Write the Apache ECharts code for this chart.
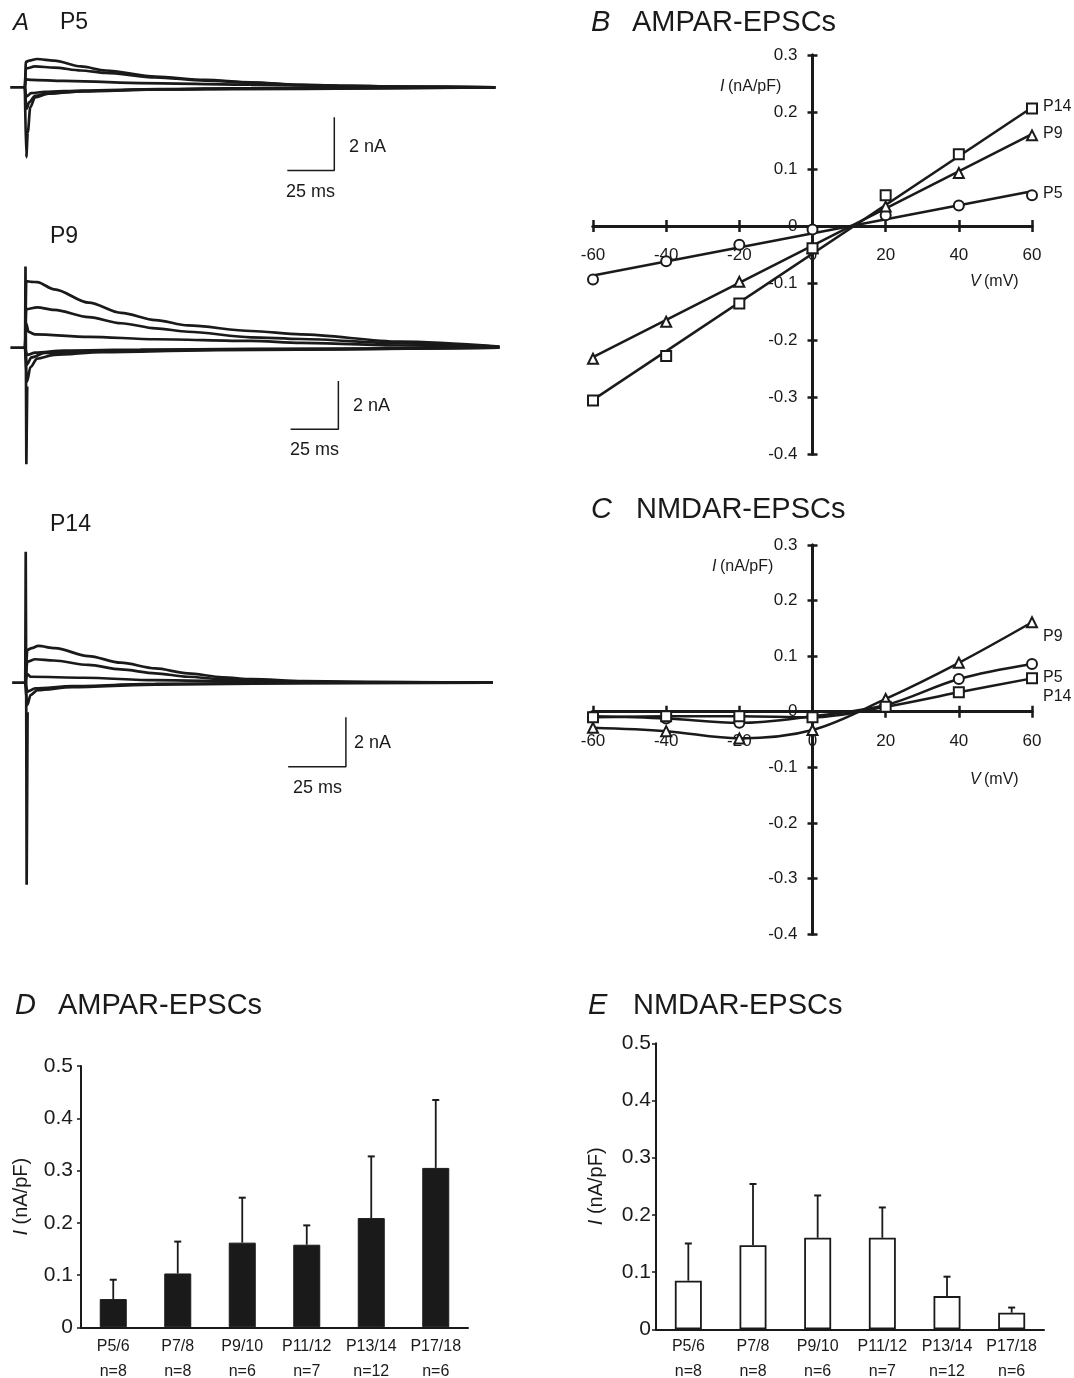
<!DOCTYPE html>
<html><head><meta charset="utf-8">
<script src="https://cdn.jsdelivr.net/npm/echarts@6/dist/echarts.min.js"></script>
<style>html,body{margin:0;padding:0;background:#fff}#c{width:1074px;height:1378px}</style>
</head><body><div id="c"></div>
<script>
// ---------- Panel A: EPSC traces (time in ms, current in nA) ----------
const p5_p60 = [[-8,0],[-0.3,0],[0.2,0.95],[2,1.0],[6,1.06],[15,1.0],[29,0.78],[42,0.63],[68,0.40],[94,0.28],[118,0.19],[144,0.09],[170,0.05],[200,0.02],[246,0]];
const p5_p40 = [[-0.3,0],[0.2,0.7],[5,0.78],[15,0.74],[29,0.63],[42,0.54],[68,0.37],[94,0.25],[118,0.17],[144,0.09],[170,0.05],[200,0.02],[246,0]];
const p5_p20 = [[-0.3,0],[0.2,0.3],[3,0.28],[20,0.24],[60,0.16],[118,0.1],[170,0.04],[246,0]];
const p5_0 = [[-0.3,0],[0.5,-0.35],[3,-0.22],[10,-0.17],[30,-0.12],[70,-0.07],[118,-0.03],[246,0]];
const p5_m20 = [[-0.3,0],[0.6,-0.8],[2,-0.55],[5,-0.32],[12,-0.22],[30,-0.14],[70,-0.08],[118,-0.04],[246,0]];
const p5_m60 = [[-0.3,0],[0.4,-2.62],[1.2,-1.7],[2.5,-0.75],[5,-0.38],[12,-0.24],[30,-0.15],[70,-0.08],[246,0]];
const p5_scale = [[137.1,-3.12],[161.7,-3.12],[161.7,-1.12]];

const p9_p60 = [[-8,0],[-0.3,0],[0.3,2.75],[3,2.72],[6,2.71],[15,2.41],[33,1.86],[50,1.44],[68,1.14],[85,0.92],[118,0.69],[144,0.55],[196,0.25],[248,0.05]];
const p9_p40 = [[-0.3,0],[0.3,1.59],[6,1.67],[15,1.56],[33,1.26],[50,1.01],[68,0.8],[85,0.66],[118,0.43],[144,0.36],[196,0.18],[248,0.04]];
const p9_p20 = [[-0.3,0],[0.3,1.0],[1.5,0.65],[5,0.55],[33,0.45],[68,0.35],[118,0.28],[144,0.2],[196,0.09],[248,0.02]];
const p9_0 = [[-0.3,0],[0.8,-0.3],[5,-0.2],[20,-0.12],[60,-0.08],[118,-0.05],[248,0]];
const p9_m20 = [[-0.3,0],[0.6,-0.7],[3,-0.4],[10,-0.22],[40,-0.14],[100,-0.08],[248,0]];
const p9_m40 = [[-0.3,0],[0.7,-1.4],[2.5,-0.8],[6,-0.45],[15,-0.3],[40,-0.18],[100,-0.1],[248,0]];
const p9_art = [[-0.3,0],[-0.1,3.35],[0.1,0],[0.35,-4.82],[0.8,-1.6]];
const p9_scale = [[138.7,-3.37],[163.7,-3.37],[163.7,-1.38]];

const p14_p60 = [[-6,0],[-0.3,0],[0.6,1.33],[2.5,1.4],[5.3,1.49],[12.6,1.40],[27,1.08],[41,0.81],[56,0.58],[70,0.38],[85,0.22],[98,0.14],[120,0.06],[150,0.02],[202,0]];
const p14_p40 = [[-0.3,0],[0.6,0.85],[4,0.95],[12,0.9],[27,0.72],[41,0.54],[56,0.38],[70,0.24],[85,0.14],[98,0.08],[130,0.03],[202,0]];
const p14_p20 = [[-0.3,0],[0.6,0.35],[2,0.24],[25,0.2],[56,0.1],[98,0.04],[150,0.01],[202,0]];
const p14_0 = [[-0.3,0],[0.8,-0.36],[4,-0.23],[20,-0.14],[56,-0.05],[100,-0.02],[202,0]];
const p14_m40 = [[-0.3,0],[0.6,-0.9],[2,-0.5],[5,-0.3],[20,-0.18],[56,-0.08],[120,-0.02],[202,0]];
const p14_art = [[-0.3,0],[-0.1,5.31],[0.1,0],[0.3,-8.2],[0.7,-1.2]];
const p14_scale = [[113.5,-3.41],[138.5,-3.41],[138.5,-1.40]];

// ---------- Panels B, C: I-V relations ----------
const voltages = [-60,-40,-20,0,20,40,60];
const ampa_P5 = [-0.094,-0.062,-0.033,-0.006,0.019,0.036,0.054];
const ampa_P9 = [-0.233,-0.168,-0.098,-0.039,0.034,0.093,0.159];
const ampa_P14 = [-0.306,-0.228,-0.136,-0.039,0.054,0.126,0.206];
const ampaFit_P5 = [[-60,-0.087],[60,0.061]];
const ampaFit_P9 = [[-60,-0.230],[60,0.161]];
const ampaFit_P14 = [[-60,-0.305],[60,0.208]];
const nmda_P5 = [-0.008,-0.012,-0.020,-0.008,0.012,0.059,0.086];
const nmda_P9 = [-0.029,-0.035,-0.048,-0.033,0.023,0.088,0.161];
const nmda_P14 = [-0.010,-0.008,-0.008,-0.010,0.009,0.035,0.060];
const ivTicksX = [-60, 60, 20];     // min, max, interval
const ivTicksY = [-0.4, 0.3, 0.1];

// ---------- Panels D, E: current densities ----------
const ages = ['P5/6','P7/8','P9/10','P11/12','P13/14','P17/18'];
const nAmpa = ['n=8','n=8','n=6','n=7','n=12','n=6'];
const nNmda = ['n=8','n=8','n=6','n=7','n=12','n=6'];
const ampaMean = [0.054,0.103,0.162,0.158,0.209,0.305];
const ampaSem  = [0.037,0.061,0.086,0.037,0.118,0.130];
const nmdaMean = [0.085,0.147,0.160,0.160,0.058,0.029];
const nmdaSem  = [0.065,0.107,0.074,0.053,0.034,0.009];

// ---------- build ----------
const FONT = '"Liberation Sans", Arial, Helvetica, sans-serif';
const INK = '#1a1a1a';

const grids = [
  {left:10.2, top:33.9, width:485.1, height:160.2},
  {left:10.4, top:263, width:489, height:205.7},
  {left:12.1, top:547.1, width:480.5, height:345.1},
  {left:593, top:55, width:439, height:399},
  {left:593, top:545, width:439, height:389},
  {left:81, top:1066, width:387, height:261.3},
  {left:656, top:1043.3, width:388, height:286}
].map(g => Object.assign({outerBoundsMode:'none', containLabel:false}, g));
const aRanges = [[-8,246,-4,2],[-8,248,-5,3.5],[-6,202,-8.5,5.5]];

const xAxes = [], yAxes = [], series = [];
aRanges.forEach((r,i)=>{
  xAxes.push({gridIndex:i, type:'value', min:r[0], max:r[1], show:false});
  yAxes.push({gridIndex:i, type:'value', min:r[2], max:r[3], show:false});
});
// B and C: main axes and tick-only mirror axes; labels are pulled from the
// grid edge onto the zero lines (crossing axes).
[3,4].forEach(g=>{
  const gr = grids[g];
  const zeroX = gr.width * (0 - ivTicksX[0]) / (ivTicksX[1] - ivTicksX[0]);
  const zeroY = gr.height * (ivTicksY[1] - 0) / (ivTicksY[1] - ivTicksY[0]);
  const lineS = {color:INK, width:3};
  xAxes.push({gridIndex:g, type:'value', min:ivTicksX[0], max:ivTicksX[1], interval:ivTicksX[2],
    axisLine:{show:true, onZero:true, lineStyle:lineS},
    axisTick:{show:true, length:6, lineStyle:{color:INK, width:2.5}},
    axisLabel:{show:true, margin:21 - (gr.height - zeroY), fontSize:17, color:INK, fontFamily:FONT,
      showMinLabel:true, showMaxLabel:true, hideOverlap:false},
    splitLine:{show:false}});
  xAxes.push({gridIndex:g, type:'value', position:'top', min:ivTicksX[0], max:ivTicksX[1], interval:ivTicksX[2],
    axisLine:{show:true, onZero:true, lineStyle:lineS},
    axisTick:{show:true, length:6, lineStyle:{color:INK, width:2.5}},
    axisLabel:{show:false}, splitLine:{show:false}});
  yAxes.push({gridIndex:g, type:'value', min:ivTicksY[0], max:ivTicksY[1], interval:ivTicksY[2],
    axisLine:{show:true, onZero:true, lineStyle:lineS},
    axisTick:{show:true, length:5, lineStyle:{color:INK, width:2.5}},
    axisLabel:{show:true, margin:15 - zeroX, fontSize:17, color:INK, fontFamily:FONT,
      showMinLabel:true, showMaxLabel:true, hideOverlap:false},
    splitLine:{show:false}});
  yAxes.push({gridIndex:g, type:'value', position:'right', min:ivTicksY[0], max:ivTicksY[1], interval:ivTicksY[2],
    axisLine:{show:true, onZero:true, lineStyle:lineS},
    axisTick:{show:true, length:5, lineStyle:{color:INK, width:2.5}},
    axisLabel:{show:false}, splitLine:{show:false}});
});
// D and E
[[5,nAmpa],[6,nNmda]].forEach(([g,ns],k)=>{
  xAxes.push({gridIndex:g, type:'category', data:ages,
    axisLine:{show:true, lineStyle:{color:INK, width:2}},
    axisTick:{show:false},
    axisLabel:{margin:k===0?7:5, fontSize:16, lineHeight:25, color:INK, fontFamily:FONT, interval:0,
      formatter:(v,i)=> v + '\n' + ns[i]}});
  yAxes.push({gridIndex:g, type:'value', min:0, max:0.5, interval:0.1,
    axisLine:{show:true, lineStyle:{color:INK, width:2}},
    axisTick:{show:true, length:4, lineStyle:{color:INK, width:1.5}},
    axisLabel:{margin:k===0?8:5, fontSize:21, color:INK, fontFamily:FONT},
    splitLine:{show:false},
    name:'{i|I} (nA/pF)', nameLocation:'middle', nameGap:50, nameRotate:90,
    nameTextStyle:{fontSize:20, color:INK, fontFamily:FONT, rich:{i:{fontStyle:'italic', fontSize:20, fontFamily:FONT, color:INK}}}});
});

function trace(ax, data, smooth){
  series.push({type:'line', xAxisIndex:ax, yAxisIndex:ax, data:data, symbol:'none', showSymbol:false,
    smooth: smooth===false ? false : 0.3, smoothMonotone:'x',
    lineStyle:{color:INK, width:2.7}, silent:true});
}
function scaleBar(ax, data){
  series.push({type:'line', xAxisIndex:ax, yAxisIndex:ax, data:data, symbol:'none', showSymbol:false,
    lineStyle:{color:INK, width:1.5}, silent:true});
}
[p5_p60,p5_p40,p5_p20,p5_0,p5_m20,p5_m60].forEach(d=>trace(0,d));
scaleBar(0,p5_scale);
[p9_p60,p9_p40,p9_p20,p9_0,p9_m20,p9_m40].forEach(d=>trace(1,d));
trace(1,p9_art,false);
scaleBar(1,p9_scale);
[p14_p60,p14_p40,p14_p20,p14_0,p14_m40].forEach(d=>trace(2,d));
trace(2,p14_art,false);
scaleBar(2,p14_scale);

// B: fitted lines + data markers
function pairs(ys){ return voltages.map((v,i)=>[v, ys[i]]); }
[ampaFit_P5, ampaFit_P9, ampaFit_P14].forEach(d=>{
  series.push({type:'line', xAxisIndex:3, yAxisIndex:3, data:d, symbol:'none', showSymbol:false,
    lineStyle:{color:INK, width:2.5}, z:3});
});
[[ampa_P5,'emptyCircle'],[ampa_P9,'emptyTriangle'],[ampa_P14,'emptyRect']].forEach(([ys,sym])=>{
  series.push({type:'scatter', xAxisIndex:3, yAxisIndex:3, data:pairs(ys), symbol:sym, symbolSize:10,
    itemStyle:{color:INK, borderColor:INK, borderWidth:1.6, opacity:1}, z:5});
});
// C: smoothed curves through points
[[nmda_P5,'emptyCircle'],[nmda_P9,'emptyTriangle'],[nmda_P14,'emptyRect']].forEach(([ys,sym])=>{
  series.push({type:'line', xAxisIndex:5, yAxisIndex:5, data:pairs(ys), symbol:sym, symbolSize:10, showSymbol:true,
    smooth:0.35, lineStyle:{color:INK, width:2.5},
    itemStyle:{color:INK, borderColor:INK, borderWidth:1.6, opacity:1}, z:4});
});

// D, E: bars + error bars
function errRender(params, api){
  const x = api.value(0), m = api.value(1), s = api.value(2);
  const p0 = api.coord([x, m]), p1 = api.coord([x, m + s]);
  const hw = 3.5;
  return {type:'group', children:[
    {type:'line', shape:{x1:p0[0], y1:p0[1], x2:p1[0], y2:p1[1]}, style:{stroke:INK, lineWidth:1.8}},
    {type:'line', shape:{x1:p1[0]-hw, y1:p1[1], x2:p1[0]+hw, y2:p1[1]}, style:{stroke:INK, lineWidth:2}}
  ]};
}
series.push({type:'bar', xAxisIndex:7, yAxisIndex:7, data:ampaMean, barWidth:27,
  itemStyle:{color:INK, borderColor:INK, borderWidth:1}});
series.push({type:'custom', xAxisIndex:7, yAxisIndex:7, renderItem:errRender,
  data:ages.map((c,i)=>[i, ampaMean[i], ampaSem[i]]), encode:{x:0, y:1}, z:1});
series.push({type:'bar', xAxisIndex:8, yAxisIndex:8, data:nmdaMean, barWidth:27,
  itemStyle:{color:'#fff', borderColor:INK, borderWidth:1.8}, z:3});
series.push({type:'custom', xAxisIndex:8, yAxisIndex:8, renderItem:errRender,
  data:ages.map((c,i)=>[i, nmdaMean[i], nmdaSem[i]]), encode:{x:0, y:1}, z:1});

// ---------- text ----------
const texts = [
  ['A',13,23,24,true], ['P5',60,23,23],
  ['P9',50,237,23], ['P14',50,525,23],
  ['2 nA',349,147,18], ['25 ms',286,192,18],
  ['2 nA',353,406,18], ['25 ms',290,450,18],
  ['2 nA',354,743,18], ['25 ms',293,788,18],
  ['B',591,23,29,true], ['AMPAR-EPSCs',632,23,29],
  ['C',591,510,29,true], ['NMDAR-EPSCs',636,510,29],
  ['D',15,1006,29,true], ['AMPAR-EPSCs',58,1006,29],
  ['E',588,1006,29,true], ['NMDAR-EPSCs',633,1006,29],
  ['I',720,87,16,true], ['(nA/pF)',728,87,16],
  ['V',970,282,16,true], ['(mV)',984,282,16],
  ['I',712,567,16,true], ['(nA/pF)',720,567,16],
  ['V',970,780,16,true], ['(mV)',984,780,16],
  ['P14',1043,107,16], ['P9',1043,134,16], ['P5',1043,194,16],
  ['P9',1043,637,16], ['P5',1043,678,16], ['P14',1043,697,16]
];
const graphic = texts.map(([t,x,y,s,it])=>({type:'text', x:x, y:y, silent:true,
  style:{text:t, fill:INK, font:(it?'italic ':'') + s + 'px ' + FONT, textAlign:'left', textVerticalAlign:'middle'}}));

const chart = echarts.init(document.getElementById('c'), null, {renderer:'canvas'});
chart.setOption({
  animation:false, backgroundColor:'#fff',
  textStyle:{fontFamily:FONT},
  grid:grids, xAxis:xAxes, yAxis:yAxes, series:series, graphic:graphic
});
</script></body></html>
